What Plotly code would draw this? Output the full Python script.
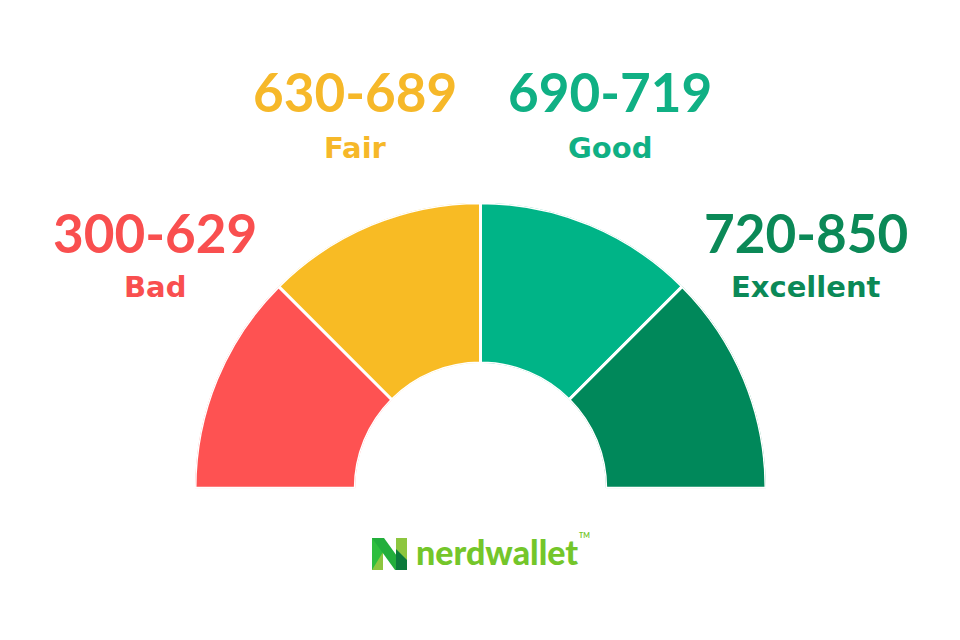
import plotly.graph_objects as go

# ---- data ----
ranges = ["300-629", "630-689", "690-719", "720-850"]
ratings = ["Bad", "Fair", "Good", "Excellent"]
theta_centers = [22.5, 67.5, 112.5, 157.5]
widths = [45, 45, 45, 45]
r_values = [1, 1, 1, 1]
seg_colors = ["#FE5252", "#F8BB24", "#00B487", "#00885A"]
text_colors = ["#F94F4F", "#F6B829", "#10B084", "#0B8957"]

W, H = 960, 640
OFF = 8  # page body margin
def px(x):
    return (x - OFF) / W
def py(y):
    return 1 - (y - OFF) / H

fig = go.Figure()
fig.add_trace(go.Barpolar(
    r=r_values, theta=theta_centers, width=widths,
    marker=dict(color=seg_colors, line=dict(color="white", width=3)),
    hoverinfo="skip", showlegend=False,
))

# label positions (pixel centres)
label_pos = [(155, 232, 287), (355, 92, 148), (610, 92, 148), (806, 232, 287)]
annotations = []
for (cx, y1, y2), rng, rat, col in zip(label_pos, ranges, ratings, text_colors):
    annotations.append(dict(x=px(cx), y=py(y1), xref="paper", yref="paper",
                            text=rng, showarrow=False, xanchor="center", yanchor="middle",
                            font=dict(family="Lato", size=53, color=col, weight="bold")))
    annotations.append(dict(x=px(cx), y=py(y2), xref="paper", yref="paper",
                            text=rat, showarrow=False, xanchor="center", yanchor="middle",
                            font=dict(family="DejaVu Sans", size=29, color=col, weight="bold")))

# logo wordmark
annotations.append(dict(x=px(414), y=py(551), xref="paper", yref="paper", text="nerdwallet",
                        showarrow=False, xanchor="left", yanchor="middle",
                        font=dict(family="Lato", size=34, color="#74C62A", weight=900)))
annotations.append(dict(x=px(577), y=py(535), xref="paper", yref="paper", text="TM",
                        showarrow=False, xanchor="left", yanchor="middle",
                        font=dict(family="Lato", size=7, color="#74C62A", weight="bold")))

def poly(pts, color):
    d = "M " + " L ".join(f"{px(x):.5f},{py(y):.5f}" for x, y in pts) + " Z"
    return dict(type="path", xref="paper", yref="paper", path=d,
                fillcolor=color, line=dict(width=0), layer="above")

shapes = [
    poly([(372, 538), (383, 538), (383, 570), (372, 570)], "#2EBE3E"),
    poly([(372, 570), (383, 570), (383, 552)], "#8DC63F"),
    poly([(396, 538), (407, 538), (407, 570), (396, 570)], "#8DC63F"),
    poly([(372, 538), (384, 538), (407, 570), (395, 570)], "#22AE3C"),
    poly([(396, 549), (407, 560), (407, 570), (396, 570)], "#0B7A3B"),
]

fig.update_layout(
    width=W, height=H,
    margin=dict(l=0, r=0, t=0, b=0),
    paper_bgcolor="white", plot_bgcolor="white",
    polar=dict(
        domain=dict(x=[px(195), px(766)], y=[py(489), py(202)]),
        sector=[0, 180], hole=125 / 285, bgcolor="white",
        radialaxis=dict(range=[0, 1], visible=False, showgrid=False),
        angularaxis=dict(direction="clockwise", rotation=180, visible=False,
                         showgrid=False, showline=False, showticklabels=False, ticks=""),
    ),
    annotations=annotations, shapes=shapes,
)

fig.write_html("out.html")
